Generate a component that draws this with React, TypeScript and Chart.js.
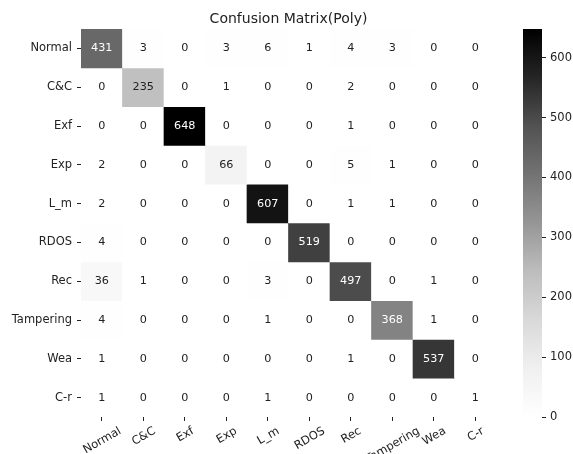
import React, { useEffect, useRef } from "react";
import { Chart, registerables } from "chart.js";

Chart.register(...registerables);

const classes = ["Normal", "C&C", "Exf", "Exp", "L_m", "RDOS", "Rec", "Tampering", "Wea", "C-r"];

const rowNormal = [431, 3, 0, 3, 6, 1, 4, 3, 0, 0];
const rowCC = [0, 235, 0, 1, 0, 0, 2, 0, 0, 0];
const rowExf = [0, 0, 648, 0, 0, 0, 1, 0, 0, 0];
const rowExp = [2, 0, 0, 66, 0, 0, 5, 1, 0, 0];
const rowLm = [2, 0, 0, 0, 607, 0, 1, 1, 0, 0];
const rowRDOS = [4, 0, 0, 0, 0, 519, 0, 0, 0, 0];
const rowRec = [36, 1, 0, 0, 3, 0, 497, 0, 1, 0];
const rowTampering = [4, 0, 0, 0, 1, 0, 0, 368, 1, 0];
const rowWea = [1, 0, 0, 0, 0, 0, 1, 0, 537, 0];
const rowCr = [1, 0, 0, 0, 1, 0, 0, 0, 0, 1];

const matrix = [rowNormal, rowCC, rowExf, rowExp, rowLm, rowRDOS, rowRec, rowTampering, rowWea, rowCr];

const colorbarTicks = [0, 100, 200, 300, 400, 500, 600];
const vmin = 0;
const vmax = 648;

// matplotlib "Greys" colormap control points (0..1 evenly spaced)
const greysLevels = [255, 240, 217, 189, 150, 115, 82, 37, 0];

function greyLevel(v: number): number {
  let t = (v - vmin) / (vmax - vmin);
  t = Math.max(0, Math.min(1, t));
  const f = t * (greysLevels.length - 1);
  const i = Math.min(Math.floor(f), greysLevels.length - 2);
  const frac = f - i;
  return greysLevels[i] + (greysLevels[i + 1] - greysLevels[i]) * frac;
}

function greyColor(v: number): string {
  const g = Math.round(greyLevel(v));
  return `rgb(${g},${g},${g})`;
}

function textColorFor(v: number): string {
  const c = greyLevel(v) / 255;
  const lin = c <= 0.03928 ? c / 12.92 : Math.pow((c + 0.055) / 1.055, 2.4);
  return lin <= 0.408 ? "#ffffff" : "#222222";
}

const FONT = "'DejaVu Sans', sans-serif";
const TEXT = "#222222";
const LABEL_SIZE = 11.5;
const CELL_SIZE = 11.2;
const ROT = (30 * Math.PI) / 180;

const cellTextPlugin = {
  id: "cellText",
  afterDatasetsDraw(chart: any) {
    const ctx = chart.ctx;
    ctx.save();
    ctx.font = `${CELL_SIZE}px ${FONT}`;
    ctx.textAlign = "center";
    ctx.textBaseline = "middle";
    matrix.forEach((row, r) => {
      const meta = chart.getDatasetMeta(r);
      meta.data.forEach((el: any, i: number) => {
        const p = el.getProps(["x", "y", "base"], true);
        ctx.fillStyle = textColorFor(row[i]);
        ctx.fillText(String(row[i]), p.x, (p.y + p.base) / 2);
      });
    });
    ctx.restore();
  },
};

// x tick labels rotated 30deg with their bounding box centred under the tick (matplotlib style)
const xLabelPlugin = {
  id: "xLabels",
  afterDraw(chart: any) {
    const scale = chart.scales.x;
    const ctx = chart.ctx;
    ctx.save();
    ctx.font = `${LABEL_SIZE}px ${FONT}`;
    ctx.fillStyle = TEXT;
    ctx.textAlign = "left";
    ctx.textBaseline = "alphabetic";
    const c = Math.cos(ROT);
    const s = Math.sin(ROT);
    const h = LABEL_SIZE * 1.17;
    const descent = LABEL_SIZE * 0.236;
    const yTop = scale.top + 6.5;
    classes.forEach((label, i) => {
      const x = scale.getPixelForTick(i);
      const w = ctx.measureText(label).width;
      const bboxW = w * c + h * s;
      const bboxH = w * s + h * c;
      const left = x - bboxW / 2;
      const blx = left + h * s;
      const bly = yTop + bboxH;
      ctx.save();
      ctx.translate(blx, bly);
      ctx.rotate(-ROT);
      ctx.fillText(label, 0, -descent);
      ctx.restore();
    });
    ctx.restore();
  },
};

export default function App() {
  const mainRef = useRef<HTMLCanvasElement>(null);
  const cbRef = useRef<HTMLCanvasElement>(null);

  useEffect(() => {
    Chart.defaults.font.family = FONT;
    Chart.defaults.color = TEXT;

    const datasets = matrix.map((row, r) => ({
      label: classes[r],
      data: row.map(() => [r - 0.5, r + 0.5]),
      backgroundColor: row.map((v) => greyColor(v)),
      grouped: false,
      barPercentage: 1,
      categoryPercentage: 1,
      borderWidth: 0,
      borderSkipped: false,
    }));

    const main = new Chart(mainRef.current as HTMLCanvasElement, {
      type: "bar",
      data: { labels: classes, datasets: datasets as any },
      options: {
        animation: false,
        responsive: false,
        layout: { padding: { left: 0, top: 0, right: 77, bottom: 0 } },
        plugins: {
          legend: { display: false },
          tooltip: { enabled: false },
          title: {
            display: true,
            text: "Confusion Matrix(Poly)",
            fullSize: false,
            color: TEXT,
            font: { size: 14, weight: "normal", family: FONT },
            padding: { top: 10.5, bottom: 1.7 },
          },
        },
        scales: {
          x: {
            type: "category",
            offset: true,
            ticks: { display: false, autoSkip: false },
            grid: { display: true, drawOnChartArea: false, offset: false, tickLength: 4, color: TEXT },
            border: { display: false },
            afterFit: (s: any) => {
              s.height = 37;
            },
          },
          y: {
            type: "linear",
            min: -0.5,
            max: 9.5,
            reverse: true,
            afterBuildTicks: (s: any) => {
              s.ticks = classes.map((_, i) => ({ value: i }));
            },
            ticks: {
              callback: (_v: any, i: number) => classes[i],
              font: { size: LABEL_SIZE },
              padding: 5,
              color: TEXT,
            },
            grid: { display: true, drawOnChartArea: false, tickLength: 4, color: TEXT },
            border: { display: false },
            afterFit: (s: any) => {
              s.width = 81;
            },
          },
        },
      } as any,
      plugins: [cellTextPlugin, xLabelPlugin],
    });

    const cb = new Chart(cbRef.current as HTMLCanvasElement, {
      type: "bar",
      data: {
        labels: [""],
        datasets: [
          {
            data: [[vmin, vmax]] as any,
            backgroundColor: (ctx: any) => {
              const { chart } = ctx;
              const area = chart.chartArea;
              if (!area) return "#888";
              const yScale = chart.scales.y;
              const y0 = yScale.getPixelForValue(vmin);
              const y1 = yScale.getPixelForValue(vmax);
              const g = chart.ctx.createLinearGradient(0, y0, 0, y1);
              greysLevels.forEach((lv, i) => {
                g.addColorStop(i / (greysLevels.length - 1), `rgb(${lv},${lv},${lv})`);
              });
              return g;
            },
            barPercentage: 1,
            categoryPercentage: 1,
            borderWidth: 0,
            borderSkipped: false,
          },
        ],
      },
      options: {
        animation: false,
        responsive: false,
        layout: { padding: { left: 23, top: 29, right: 0, bottom: 37 } },
        plugins: { legend: { display: false }, tooltip: { enabled: false } },
        scales: {
          x: { display: false, offset: true },
          y: {
            position: "right",
            min: vmin,
            max: vmax,
            afterBuildTicks: (s: any) => {
              s.ticks = colorbarTicks.map((v) => ({ value: v }));
            },
            ticks: { font: { size: LABEL_SIZE }, padding: 4, color: TEXT },
            grid: { display: true, drawOnChartArea: false, tickLength: 4, color: TEXT },
            border: { display: false },
            afterFit: (s: any) => {
              s.width = 31;
            },
          },
        },
      } as any,
    });

    return () => {
      main.destroy();
      cb.destroy();
    };
  }, []);

  return (
    <div style={{ position: "absolute", left: 0, top: 0, width: 573, height: 454, background: "#fff" }}>
      <canvas ref={mainRef} width={573} height={454} style={{ position: "absolute", left: 0, top: 0 }} />
      <canvas ref={cbRef} width={73} height={454} style={{ position: "absolute", left: 500, top: 0 }} />
    </div>
  );
}
